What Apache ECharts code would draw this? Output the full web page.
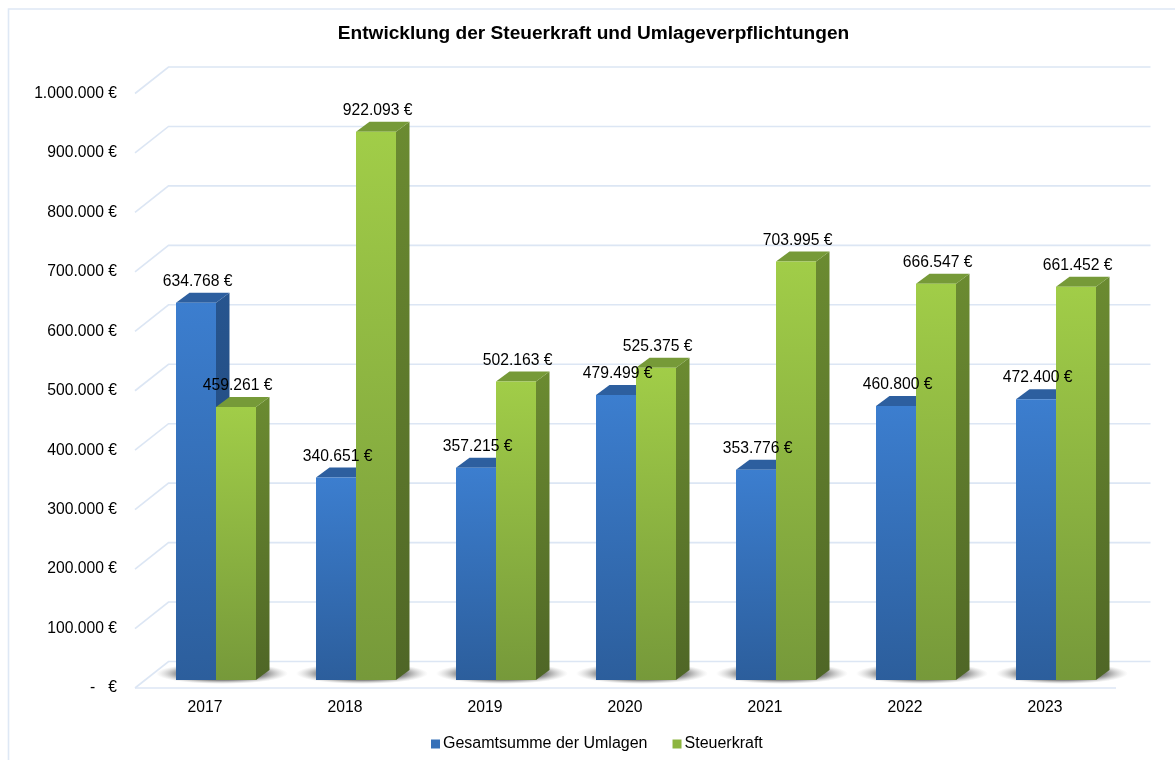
<!DOCTYPE html>
<html>
<head>
<meta charset="utf-8">
<style>html,body{margin:0;padding:0;background:#fff}#c{width:1175px;height:760px}</style>
<script src="https://cdn.jsdelivr.net/npm/echarts@6/dist/echarts.min.js"></script>
</head>
<body>
<div id="c"></div>
<script>
const titleText = 'Entwicklung der Steuerkraft und Umlageverpflichtungen';
const categories = ['2017','2018','2019','2020','2021','2022','2023'];
const umlagenName = 'Gesamtsumme der Umlagen';
const steuerName = 'Steuerkraft';
const umlagen = [634768,340651,357215,479499,353776,460800,472400];
const steuerkraft = [459261,922093,502163,525375,703995,666547,661452];
const yTicks = [0,100000,200000,300000,400000,500000,600000,700000,800000,900000,1000000];

const fmt = v => String(v).replace(/\B(?=(\d{3})+$)/g,'.') + ' €';
const FONT = '"Liberation Sans", Arial, sans-serif';
const FS = 15.7;
const GRID = '#DCE6F4';
// perspective offsets from the front plane
const BAR_DX = 11, BAR_DY = -8, DEPTH_X = 13.5, DEPTH_Y = -10, WALL_DX = 33.5, WALL_DY = -26.5;
const BLUE = {front:['#3C7ECF','#2C5E9C'], top:'#2D5F9F', side:['#27558F','#1F4474']};
const GREEN = {front:['#A1CD48','#76993A'], top:'#769A38', side:['#6B8B31','#4F6626']};
const grad = c => ({type:'linear',x:0,y:0,x2:0,y2:1,colorStops:[{offset:0,color:c[0]},{offset:1,color:c[1]}]});

function barRender(pal, side){
  return function(params, api){
    const i = api.value(0), v = api.value(1);
    const bw = api.size([1,0])[0];
    const w = bw * 2/7;
    const c = api.coord([i, v]), b = api.coord([i, 0]);
    const x0 = c[0] + BAR_DX + (side < 0 ? -w : 0), x1 = x0 + w;
    const yt = c[1] + BAR_DY, yb = b[1] + BAR_DY;
    return {type:'group', children:[
      {type:'polygon', shape:{points:[[x1,yt],[x1+DEPTH_X,yt+DEPTH_Y],[x1+DEPTH_X,yb+DEPTH_Y],[x1,yb]]}, style:{fill:grad(pal.side)}},
      {type:'polygon', shape:{points:[[x0,yt],[x0+DEPTH_X,yt+DEPTH_Y],[x1+DEPTH_X,yt+DEPTH_Y],[x1,yt]]}, style:{fill:pal.top}},
      {type:'rect', shape:{x:x0,y:yt,width:w,height:yb-yt}, style:{fill:grad(pal.front)}},
      {type:'text', z2:100, style:{text:fmt(v), x:x0+w/2+1.7, y:yt-21, align:'center', verticalAlign:'middle', font:FS+'px '+FONT, fill:'#000'}}
    ]};
  };
}
function gridRender(params, api){
  const t = api.value(0);
  const p = api.coord([0, t]);
  const half = api.size([1,0])[0]/2;
  const xL = p[0] - half, y = p[1];
  const xEnd = api.coord([categories.length-1, t])[0] + half;
  const st = {stroke:GRID, lineWidth:1.6, fill:'none'};
  const kids = [
    {type:'polyline', shape:{points:[[xL,y],[xL+WALL_DX,y+WALL_DY],[xEnd+WALL_DX+2,y+WALL_DY]]}, style:st}
  ];
  if(t===0) kids.push({type:'line', shape:{x1:xL,y1:y,x2:xEnd+1,y2:y}, style:st});
  return {type:'group', children:kids};
}
function shadowRender(params, api){
  const i = api.value(0);
  const b = api.coord([i, 0]);
  const cx = b[0] + BAR_DX + 6, y = b[1] + BAR_DY - 6.5;
  return {type:'circle',
    x:cx, y:y, scaleY:0.16,
    shape:{cx:0,cy:0,r:66},
    style:{fill:{type:'radial',x:0.5,y:0.5,r:0.5,colorStops:[
      {offset:0,color:'rgba(100,100,100,0.8)'},{offset:0.66,color:'rgba(100,100,100,0.75)'},
      {offset:0.84,color:'rgba(130,130,130,0.32)'},{offset:1,color:'rgba(170,170,170,0)'}]}}};
}

const chart = echarts.init(document.getElementById('c'), null, {renderer:'canvas'});
chart.setOption({
  animation:false,
  backgroundColor:'#fff',
  title:{text:titleText,left:588.5,top:19,textAlign:'center',textStyle:{fontFamily:FONT,fontSize:19.1,fontWeight:'bold',color:'#000'}},
  graphic:[{type:'polyline',silent:true,shape:{points:[[8.5,760],[8.5,9],[1175,9]]},style:{stroke:'#DEE8F5',lineWidth:1.6,fill:'none'}}],
  legend:{left:426,top:731,itemWidth:9,itemHeight:9,itemGap:25,icon:'rect',data:[umlagenName,steuerName],selectedMode:false,
    textStyle:{fontFamily:FONT,fontSize:16,color:'#000',padding:[0,0,0,-2]}},
  grid:{left:135,right:60,top:93.5,bottom:72},
  xAxis:{type:'category',data:categories,axisLine:{show:false},axisTick:{show:false},splitLine:{show:false},
    axisLabel:{margin:12,fontFamily:FONT,fontSize:FS,color:'#000'}},
  yAxis:{type:'value',min:0,max:1000000,interval:100000,axisLine:{show:false},axisTick:{show:false},splitLine:{show:false},
    axisLabel:{margin:18,fontFamily:FONT,fontSize:FS,color:'#000',padding:[2,0,0,0],formatter:v=>v===0?'-   €':fmt(v)}},
  series:[
    {type:'custom',name:'gridlines',silent:true,z:1,clip:false,data:yTicks.map(t=>[t]),encode:{y:0},renderItem:gridRender},
    {type:'custom',name:'shadow',silent:true,z:2,clip:false,data:categories.map((c,i)=>[i]),encode:{x:0},renderItem:shadowRender},
    {type:'custom',name:umlagenName,silent:true,z:3,clip:false,itemStyle:{color:'#3570B8'},data:umlagen.map((v,i)=>[i,v]),encode:{x:0,y:1},renderItem:barRender(BLUE,-1)},
    {type:'custom',name:steuerName,silent:true,z:3,clip:false,itemStyle:{color:'#8DB53F'},data:steuerkraft.map((v,i)=>[i,v]),encode:{x:0,y:1},renderItem:barRender(GREEN,1)}
  ]
});
</script>
</body>
</html>
